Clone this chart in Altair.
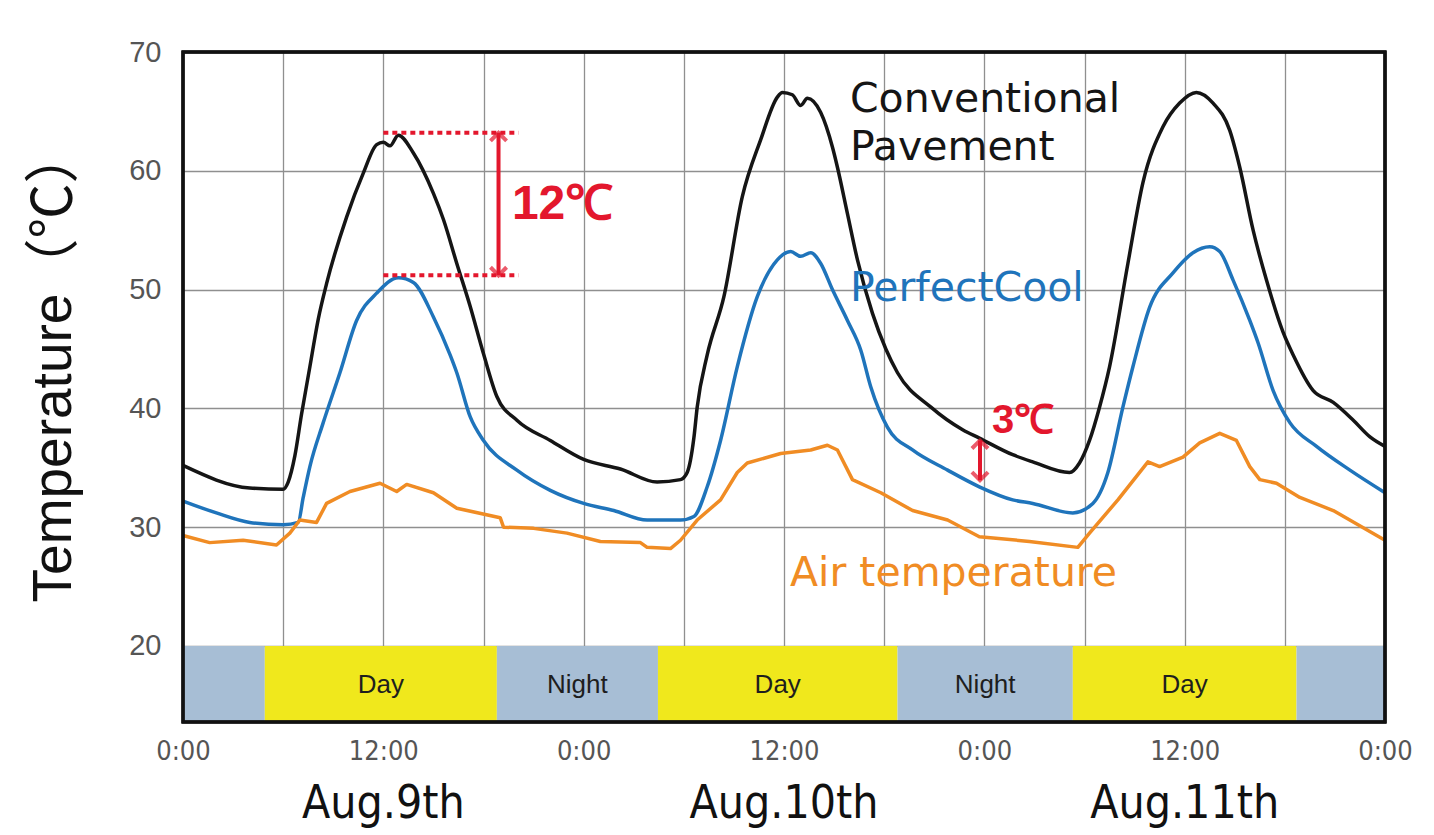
import altair as alt
import pandas as pd

# ---------------- data (hours since Aug.9 0:00, temperature in deg C) ----------------
conv_h = [0.0, 4.0, 6.0, 6.3, 6.7, 7.1, 7.6, 8.1, 8.6, 9.8, 10.8, 11.6, 12.0, 12.4, 12.9,
          13.8, 15.0, 15.6, 16.4, 17.2, 18.0, 18.8, 20.0, 22.0, 24.0, 26.2, 28.4, 29.8,
          30.2, 30.6, 30.8, 31.4, 32.4, 33.5, 34.6, 35.6, 35.9, 36.5, 37.0, 37.4, 38.2,
          38.9, 39.2, 39.8, 40.4, 41.3, 42.1, 42.8, 44.8, 46.7, 47.7, 49.7, 50.9, 53.1,
          53.7, 54.3, 54.9, 55.5, 56.6, 57.5, 58.7, 59.7, 60.7, 61.7, 62.7, 63.3, 64.1,
          64.9, 65.9, 66.5, 67.7, 68.9, 70.1, 71.1, 72.0]
conv_t = [35.2, 33.3, 33.2, 33.8, 36.0, 39.5, 43.5, 47.5, 50.5, 56.1, 59.8, 62.2, 62.4, 62.1, 63.0,
          61.5, 58.1, 55.9, 52.2, 48.6, 44.6, 41.0, 39.0, 37.3, 35.7, 34.9, 33.8, 34.0,
          34.6, 37.5, 40.1, 44.5, 49.4, 57.8, 62.6, 66.2, 66.6, 66.4, 65.5, 66.1, 64.9,
          62.0, 60.3, 56.4, 52.5, 48.0, 45.0, 43.0, 40.1, 38.2, 37.5, 36.1, 35.5, 34.6,
          35.4, 37.3, 40.1, 43.5, 52.2, 59.0, 63.7, 65.7, 66.6, 65.7, 63.4, 60.3, 55.0,
          50.8, 46.4, 44.5, 41.5, 40.5, 39.0, 37.6, 36.8]

cool_h = [0.0, 2.0, 4.0, 6.0, 6.9, 7.2, 7.6, 8.4, 9.4, 10.4, 11.6, 12.9, 13.8, 15.0, 16.0,
          16.4, 17.2, 18.0, 20.0, 22.0, 24.0, 25.8, 27.8, 29.8, 30.6, 31.4, 32.2, 33.2,
          34.4, 35.6, 36.4, 37.0, 37.6, 38.2, 38.9, 39.8, 40.6, 41.2, 42.2, 43.7, 45.8,
          47.7, 49.7, 50.9, 53.3, 54.5, 55.4, 56.3, 56.9, 57.9, 59.3, 60.5, 61.5, 62.1,
          62.9, 63.9, 64.4, 65.3, 66.3, 67.9, 69.9, 72.0]
cool_t = [32.2, 31.2, 30.4, 30.2, 30.4, 32.5, 35.1, 38.8, 43.0, 47.4, 49.7, 51.0, 50.6, 47.7, 44.5,
          43.0, 39.3, 37.3, 34.8, 33.1, 32.0, 31.4, 30.6, 30.6, 30.9, 33.4, 37.3, 43.5,
          49.4, 52.5, 53.2, 52.8, 53.1, 52.2, 50.0, 47.4, 44.9, 41.8, 38.4, 36.5, 34.8,
          33.4, 32.3, 32.0, 31.2, 32.0, 34.6, 40.1, 43.5, 48.5, 51.4, 53.1, 53.6, 53.2,
          50.8, 47.4, 45.5, 41.5, 38.8, 36.8, 34.8, 32.9]

air_h = [0.0, 1.6, 3.6, 5.6, 6.4, 7.0, 8.0, 8.6, 10.0, 11.8, 12.8, 13.4, 15.0, 16.4, 19.0,
         19.2, 21.0, 23.0, 25.0, 27.4, 27.8, 29.2, 29.8, 30.8, 32.2, 33.2, 33.8, 35.8,
         37.6, 38.6, 39.2, 40.1, 41.8, 43.7, 45.8, 47.7, 50.7, 53.6, 54.3, 56.0, 57.8,
         58.5, 59.9, 60.9, 62.1, 63.1, 63.9, 64.5, 65.5, 66.9, 68.9, 72.0]
air_t = [29.3, 28.7, 28.9, 28.5, 29.5, 30.6, 30.4, 32.0, 33.0, 33.7, 33.0, 33.6, 32.9, 31.6, 30.8,
         30.0, 29.9, 29.5, 28.8, 28.7, 28.3, 28.2, 28.9, 30.6, 32.3, 34.6, 35.4, 36.2,
         36.5, 36.9, 36.5, 34.0, 32.9, 31.4, 30.6, 29.2, 28.8, 28.3, 29.5, 32.3, 35.5,
         35.1, 35.9, 37.1, 37.9, 37.3, 35.1, 34.0, 33.7, 32.5, 31.4, 28.9]

series_names = ["Conventional Pavement", "PerfectCool", "Air temperature"]
series_colors = ["#151515", "#1f74bb", "#f08c24"]

band_start = [0.0, 4.9, 18.8, 28.45, 42.8, 53.3, 66.7]
band_end = [4.9, 18.8, 28.45, 42.8, 53.3, 66.7, 72.0]
band_type = ["Night", "Day", "Night", "Day", "Night", "Day", "Night"]
band_label = ["", "Day", "Night", "Day", "Night", "Day", ""]

date_h = [12, 36, 60]
date_labels = ["Aug.9th", "Aug.10th", "Aug.11th"]

y_ticks = [20, 30, 40, 50, 60, 70]
x_ticks = list(range(0, 73, 6))

# annotations
ann12_lines_t = [63.2, 51.2]
ann12_x = [12.0, 20.1]
ann12_arrow_h = 18.9
ann3_arrow_h = 47.74
ann3_t = [37.3, 33.95]

# ---------------- build tables ----------------
smooth = pd.concat([
    pd.DataFrame({"h": conv_h, "t": conv_t, "s": series_names[0]}),
    pd.DataFrame({"h": cool_h, "t": cool_t, "s": series_names[1]}),
])
air = pd.DataFrame({"h": air_h, "t": air_t, "s": series_names[2]})
bands = pd.DataFrame({"start": band_start, "end": band_end, "type": band_type, "label": band_label})
bands["mid"] = (bands["start"] + bands["end"]) / 2
dates = pd.DataFrame({"h": date_h, "label": date_labels})

W, H = 1202, 670
RED = "#e3172d"
FONT = "Liberation Sans"
TITLEFONT = "Liberation Sans, Noto Sans CJK JP"
WIDE = "DejaVu Sans"
NARROW = "Liberation Sans Narrow, DejaVu Sans Condensed, Liberation Sans"

xs = alt.Scale(domain=[0, 72], nice=False, zero=False)
ys = alt.Scale(domain=[13.6, 70], nice=False, zero=False)
cs = alt.Scale(domain=series_names, range=series_colors)

xaxis = alt.Axis(values=x_ticks, grid=True, gridColor="#8f8f8f", gridWidth=1.3, ticks=False,
                 domain=False, title=None, labelFontSize=27, labelColor="#555555", labelFont=NARROW,
                 labelPadding=16, labelFlush=False, labelOverlap=False,
                 labelExpr="datum.value % 24 == 0 ? '0:00' : (datum.value % 12 == 0 ? '12:00' : '')")
yaxis = alt.Axis(values=y_ticks, grid=True, gridColor="#8f8f8f", gridWidth=1.3, ticks=False,
                 domain=False, title="Temperature\uff08\u2103\uff09", titleFontSize=55,
                 titleFontWeight="normal",
                 titleColor="#111111", titleFont=TITLEFONT, titleAngle=-90, titleBaseline="middle",
                 titleAlign="center", titleX=-130, titleY=313,
                 labelFontSize=29, labelColor="#555555", labelFont=FONT, labelPadding=22,
                 labelFlush=False)

line_smooth = alt.Chart(smooth).mark_line(strokeWidth=3.5, strokeJoin="round",
                                          interpolate="monotone").encode(
    x=alt.X("h:Q", scale=xs, axis=xaxis),
    y=alt.Y("t:Q", scale=ys, axis=yaxis),
    color=alt.Color("s:N", scale=cs, legend=None),
    detail="s:N",
)
line_air = alt.Chart(air).mark_line(strokeWidth=3.5, strokeJoin="round").encode(
    x=alt.X("h:Q", scale=xs, axis=xaxis),
    y=alt.Y("t:Q", scale=ys, axis=yaxis),
    color=alt.Color("s:N", scale=cs, legend=None),
)

band_layer = alt.Chart(bands).mark_rect(strokeWidth=0).encode(
    x=alt.X("start:Q", scale=xs, axis=xaxis),
    x2="end:Q",
    y=alt.datum(20),
    y2=alt.value(H),
    fill=alt.Fill("type:N", scale=alt.Scale(domain=["Day", "Night"], range=["#f0e81c", "#a7bed5"]),
                  legend=None),
)

band_text = alt.Chart(bands).mark_text(fontSize=26, font=FONT, color="#1e1e1e", baseline="middle").encode(
    x=alt.X("mid:Q", scale=xs, axis=xaxis),
    y=alt.value(H - 37),
    text="label:N",
)

date_text = alt.Chart(dates).mark_text(fontSize=46, font=NARROW, color="#111111", baseline="middle").encode(
    x=alt.X("h:Q", scale=xs, axis=xaxis),
    y=alt.value(H + 82),
    text="label:N",
)

frame = alt.Chart(dates).mark_rect(filled=False, stroke="#111111", strokeWidth=3).encode(
    x=alt.value(0), x2=alt.value(W), y=alt.value(0), y2=alt.value(H)
)

# series labels
lab_df = pd.DataFrame({
    "h": [39.95, 39.95, 39.95, 36.36],
    "t": [65.95, 61.9, 50.05, 26.1],
    "label": ["Conventional", "Pavement", "PerfectCool", "Air temperature"],
    "s": ["Conventional Pavement", "Conventional Pavement", "PerfectCool", "Air temperature"],
})
series_text = alt.Chart(lab_df).mark_text(fontSize=41, font=WIDE, align="left", baseline="middle").encode(
    x=alt.X("h:Q", scale=xs, axis=xaxis),
    y=alt.Y("t:Q", scale=ys, axis=yaxis),
    text="label:N",
    color=alt.Color("s:N", scale=cs, legend=None),
)

# 12 C annotation
dots_df = pd.DataFrame({"x1": [ann12_x[0]] * 2, "x2": [ann12_x[1]] * 2, "t": ann12_lines_t})
dots = alt.Chart(dots_df).mark_rule(color=RED, strokeWidth=4, strokeDash=[5, 4]).encode(
    x=alt.X("x1:Q", scale=xs, axis=xaxis), x2="x2:Q", y=alt.Y("t:Q", scale=ys, axis=yaxis)
)
arrows_df = pd.DataFrame({"h": [ann12_arrow_h, ann3_arrow_h],
                          "t1": [ann12_lines_t[0], ann3_t[0]],
                          "t2": [ann12_lines_t[1], ann3_t[1]]})
shaft = alt.Chart(arrows_df).mark_rule(color=RED, strokeWidth=4).encode(
    x=alt.X("h:Q", scale=xs, axis=xaxis), y=alt.Y("t1:Q", scale=ys, axis=yaxis), y2="t2:Q"
)
head_up = alt.Chart(arrows_df).mark_point(shape="M-1,1L0,0L1,1", size=260, filled=False,
                                          stroke=RED, strokeWidth=4).encode(
    x=alt.X("h:Q", scale=xs, axis=xaxis), y=alt.Y("t1:Q", scale=ys, axis=yaxis)
)
head_down = alt.Chart(arrows_df).mark_point(shape="M-1,-1L0,0L1,-1", size=260, filled=False,
                                            stroke=RED, strokeWidth=4).encode(
    x=alt.X("h:Q", scale=xs, axis=xaxis), y=alt.Y("t2:Q", scale=ys, axis=yaxis)
)
ann_df = pd.DataFrame({"h": [19.7, 48.46], "t": [57.1, 38.9], "label": ["12\u2103", "3\u2103"]})
ann_text12 = alt.Chart(ann_df.iloc[[0]]).mark_text(fontSize=48, fontWeight="bold", font=FONT, color=RED,
                                                   align="left", baseline="middle").encode(
    x=alt.X("h:Q", scale=xs, axis=xaxis), y=alt.Y("t:Q", scale=ys, axis=yaxis), text="label:N"
)
ann_text3 = alt.Chart(ann_df.iloc[[1]]).mark_text(fontSize=40, fontWeight="bold", font=FONT, color=RED,
                                                  align="left", baseline="middle").encode(
    x=alt.X("h:Q", scale=xs, axis=xaxis), y=alt.Y("t:Q", scale=ys, axis=yaxis), text="label:N"
)

chart = alt.layer(
    line_smooth, line_air, band_layer, band_text, dots, shaft, head_up, head_down, ann_text12, ann_text3,
    series_text, date_text, frame
).properties(
    width=W, height=H,
    autosize=alt.AutoSizeParams(type="none"),
    padding={"left": 175, "top": 44, "right": 40, "bottom": 112},
).configure_view(stroke=None).configure(background="white")

chart.save("out.html", embed_options={"renderer": "svg", "actions": False})
